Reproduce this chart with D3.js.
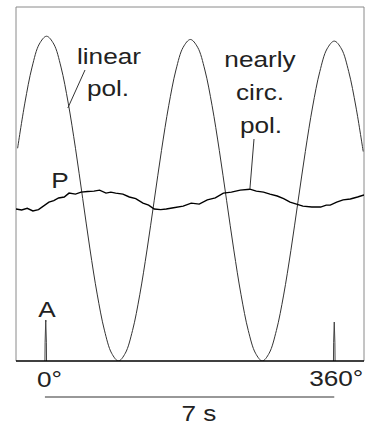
<!DOCTYPE html>
<html>
<head>
<meta charset="utf-8">
<script src="https://cdn.jsdelivr.net/npm/d3@7"></script>
<style>
  body { margin: 0; background: #fff; }
  svg { display: block; }
  text { font-family: "Liberation Sans", Arial, sans-serif; font-size: 22px; fill: #222; }
</style>
</head>
<body>
<div id="chart"></div>
<script>
// rotation angle of the analyser (deg)
const linearAngle = [-34, -25, -16, -7, 2, 11, 20, 29, 38, 47, 56, 65, 74, 83, 91.5,
  100, 109, 118, 127, 136, 145, 154, 163, 172, 181, 190, 199, 208, 217, 226, 235,
  244, 253, 262, 270.5, 279, 288, 297, 306, 315, 324, 333, 342, 351, 360, 369, 378, 387, 396]
// detected intensity, linear polarisation
const linearValue = [0.655, 0.794, 0.905, 0.976, 1.0, 0.976, 0.905, 0.794, 0.655, 0.5,
  0.345, 0.206, 0.095, 0.024, 0.0, 0.024, 0.094, 0.204, 0.342, 0.495, 0.648, 0.786,
  0.896, 0.966, 0.99, 0.966, 0.896, 0.786, 0.648, 0.495, 0.342, 0.204, 0.094, 0.024,
  0.0, 0.024, 0.094, 0.203, 0.34, 0.493, 0.645, 0.782, 0.891, 0.961, 0.985, 0.961,
  0.891, 0.782, 0.645]

// nearly circular polarisation (trace P)
const circAngle = [-36, -29, -22, -15, -8, 5, 11, 17, 24, 30, 38, 45, 53, 61, 68, 76, 82, 88,
  97, 105, 113, 122, 129, 136, 144, 151, 160, 172, 182, 192, 202, 212, 222, 232, 243,
  255, 263, 272, 280, 289, 297, 305, 313, 321, 332, 343, 350, 355, 363, 371, 380, 389, 397]
const circValue = [0.468, 0.465, 0.47, 0.462, 0.466, 0.489, 0.494, 0.502, 0.505, 0.517,
  0.514, 0.52, 0.522, 0.523, 0.526, 0.517, 0.52, 0.517, 0.514, 0.505, 0.5, 0.486,
  0.48, 0.468, 0.466, 0.468, 0.472, 0.477, 0.486, 0.483, 0.496, 0.502, 0.517, 0.52,
  0.526, 0.529, 0.523, 0.52, 0.514, 0.508, 0.5, 0.489, 0.483, 0.477, 0.474, 0.474,
  0.48, 0.48, 0.489, 0.496, 0.499, 0.505, 0.511]

// trigger pulses A at 0 and 360 deg
const pulseAngle = [[0, 0.2, 1, 1.8, 2], [359, 359.2, 360, 360.8, 361]]
const pulseValue = [[0, 0.058, 0.126, 0.058, 0], [0, 0.056, 0.12, 0.056, 0]]

const angleTicks = [0, 360]
const angleLabels = ["0°", "360°"]
const periodLabel = "7 s"

const width = 374
const height = 426
const plotLeft = 16, plotRight = 364, plotTop = 7, plotBottom = 361

const svg = d3.select("#chart").append("svg")
  .attr("width", width)
  .attr("height", height)

const xScale = d3.scaleLinear().domain([-36, 397]).range([plotLeft, plotRight])
const yScale = d3.scaleLinear().domain([0, 1.09]).range([plotBottom, plotTop])

svg.append("clipPath").attr("id", "plot")
  .append("rect")
  .attr("x", plotLeft).attr("y", plotTop - 2)
  .attr("width", plotRight - plotLeft).attr("height", plotBottom - plotTop + 2)

// frame
svg.append("path")
  .attr("d", `M${plotLeft},${plotBottom}V${plotTop}H${plotRight}V${plotBottom}`)
  .attr("fill", "none")
  .attr("stroke", "#8a8a8a")
  .attr("stroke-width", 1)

const line = d3.line()
  .x(d => xScale(d[0]))
  .y(d => yScale(d[1]))

const plot = svg.append("g").attr("clip-path", "url(#plot)")

plot.append("path")
  .datum(linearAngle.map((a, i) => [a, linearValue[i]]))
  .attr("d", line.curve(d3.curveCatmullRom))
  .attr("fill", "none")
  .attr("stroke", "#333")
  .attr("stroke-width", 1)

plot.append("path")
  .datum(circAngle.map((a, i) => [a, circValue[i]]))
  .attr("d", line.curve(d3.curveLinear))
  .attr("fill", "none")
  .attr("stroke", "#000")
  .attr("stroke-width", 1.4)

pulseAngle.forEach((pa, j) => {
  plot.append("path")
    .datum(pa.map((a, i) => [a, pulseValue[j][i]]))
    .attr("d", line.curve(d3.curveLinear))
    .attr("fill", "none")
    .attr("stroke", "#444")
    .attr("stroke-width", 1)
})

// bottom axis line
svg.append("line")
  .attr("x1", plotLeft).attr("x2", plotRight)
  .attr("y1", plotBottom).attr("y2", plotBottom)
  .attr("stroke", "#000")
  .attr("stroke-width", 1.5)

// stretched text helper (reference lettering is wider than Arial)
function label(x, y, str, anchor) {
  svg.append("text")
    .attr("transform", `translate(${x},${y}) scale(1.19,1)`)
    .attr("text-anchor", anchor || "middle")
    .text(str)
}

label(xScale(angleTicks[0]) - 8, 387, angleLabels[0], "start")
label(xScale(angleTicks[1]) + 29, 386, angleLabels[1], "end")

// period bar
svg.append("line")
  .attr("x1", xScale(angleTicks[0])).attr("x2", xScale(angleTicks[1]))
  .attr("y1", 397).attr("y2", 397)
  .attr("stroke", "#333")
  .attr("stroke-width", 1.2)
label(199, 421, periodLabel)

// annotations
label(109, 64, "linear")
label(108, 96, "pol.")
svg.append("line")
  .attr("x1", 85).attr("y1", 70)
  .attr("x2", xScale(28.5)).attr("y2", 108)
  .attr("stroke", "#333")

label(260, 67, "nearly")
label(260, 100, "circ.")
label(261, 133, "pol.")
svg.append("line")
  .attr("x1", 254).attr("y1", 139)
  .attr("x2", xScale(255)).attr("y2", yScale(0.529))
  .attr("stroke", "#333")

label(60, 188, "P")
label(47, 317, "A")
svg.append("line")
  .attr("x1", xScale(1)).attr("x2", xScale(1))
  .attr("y1", 322).attr("y2", yScale(0.126))
  .attr("stroke", "#444")
</script>
</body>
</html>
